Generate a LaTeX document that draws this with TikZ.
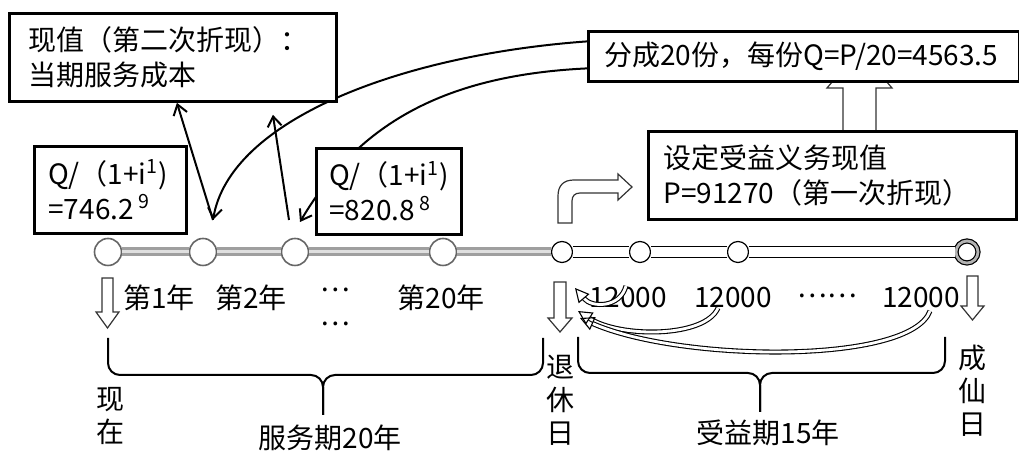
\documentclass[tikz,border=0pt]{standalone}
\usepackage{fontspec}
\setmainfont{Noto Sans CJK SC}
\usetikzlibrary{arrows.meta,backgrounds}

\tikzset{
  box/.style={draw, line width=1.4pt, fill=white, anchor=north west, align=left,
    inner ysep=0pt, font=\fontsize{14}{17.5}\selectfont},
  lbl/.style={inner sep=0pt, font=\fontsize{14}{16.5}\selectfont},
  vlbl/.style={lbl, align=center},
  lnode/.style={circle, draw=gray!80!black, line width=0.8pt, fill=white, minimum size=13.5pt, inner sep=0pt},
  rnode/.style={circle, draw, line width=0.6pt, fill=white, minimum size=10.5pt, inner sep=0pt},
  endnode/.style={circle, draw, line width=0.6pt, double=gray!60, double distance=1.4pt, fill=white, minimum size=11pt, inner sep=0pt},
  grayline/.style={draw=gray!75, line width=1.5pt, double=gray!25, double distance=1.5pt},
  blackline/.style={draw=black, line width=0.6pt, double=white, double distance=4.6pt},
  hollow/.style={draw=black!80, line width=0.6pt, fill=white},
  thin arrow/.style={line width=1pt, -{Straight Barb[length=5pt,width=7pt]}},
  payback/.style={draw=black, line width=0.55pt, double=white, double distance=1.4pt, -{Triangle[open,length=7pt,width=7pt]}},
  brace/.style={line width=1pt, rounded corners=6pt},
}

\begin{document}
\begin{tikzpicture}[x=0.5pt,y=-0.5pt]
  \useasboundingbox (0,0) rectangle (1019,453);

  \node[box, text width=144.5pt, inner xsep=9.5pt, minimum height=44pt] (pv) at (8,12) {现值（第二次折现）：\\当期服务成本};
  \node[box, text width=62pt, inner xsep=7pt, minimum height=43.5pt] (q9) at (33,145) {Q/（1+i\textsuperscript{1})\\=746.2\,\textsuperscript{9}};
  \node[box, text width=59.5pt, inner xsep=6.5pt, minimum height=43pt] (q8) at (315,147) {Q/（1+i\textsuperscript{1})\\=820.8\,\textsuperscript{8}};
  \node[box, text width=199.5pt, inner xsep=8pt, minimum height=25pt] (share) at (587,30) {分成20份，每份Q=P/20=4563.5};
  \node[box, text width=169pt, inner xsep=7.5pt, minimum height=44pt] (dbo) at (647,130) {设定受益义务现值\\P=91270（第一次折现）};

  \node[lnode] (t1) at (108,252) {};
  \node[lnode] (t2) at (203,252) {};
  \node[lnode] (t3) at (295,252) {};
  \node[lnode] (t4) at (443,252) {};
  \node[rnode] (t5) at (562,252) {};
  \node[rnode] (t6) at (640,252) {};
  \node[rnode] (t7) at (738,252) {};
  \node[endnode] (t8) at (967,252) {};
  \foreach \a/\b in {t1/t2,t2/t3,t3/t4,t4/t5} \draw[grayline] (\a) -- (\b);
  \foreach \a/\b in {t5/t6,t6/t7,t7/t8} \draw[blackline] (\a) -- (\b);

  \node[lbl] (y1) at (159,298) {第1年};
  \node[lbl] (y2) at (251,298) {第2年};
  \node[lbl] (d1) at (335,290) {…};
  \node[lbl] (d2) at (335,324) {…};
  \node[lbl] (y20) at (441,298) {第20年};
  \node[lbl] (c1) at (628,298) {12000};
  \node[lbl] (c2) at (733,298) {12000};
  \node[lbl] (d3) at (827,296) {……};
  \node[lbl] (c3) at (921,298) {12000};

  \node[vlbl] (now) at (111,416) {现\\在};
  \node[vlbl] (ret) at (560,400) {退\\休\\日};
  \node[vlbl] (die) at (972,391) {成\\仙\\日};
  \node[lbl] (svc) at (330,438) {服务期20年};
  \node[lbl] (ben) at (768,433) {受益期15年};

  % braces
  \draw[brace] (108,338) -- (108,375) -- (323,375) -- (323,415);
  \draw[brace] (323,415) -- (323,375) -- (543,375) -- (543,338);
  \draw[brace] (578,337) -- (578,373) -- (760,373) -- (760,412);
  \draw[brace] (760,412) -- (760,373) -- (945,373) -- (945,337);

  % hollow arrows
  \draw[hollow] (102,278) -- (113,278) -- (113,312) -- (119,312) -- (107.5,328) -- (96,312) -- (102,312) -- cycle;
  \draw[hollow] (554,282) -- (566,282) -- (566,318) -- (572,318) -- (560,332) -- (548,318) -- (554,318) -- cycle;
  \draw[hollow] (967,276) -- (978,276) -- (978,306) -- (984,306) -- (972.5,320) -- (961,306) -- (967,306) -- cycle;
  \draw[hollow] (572,223) -- (558,223) -- (558,196) .. controls (558,186) and (563,180) .. (574,180) -- (618,180)
    -- (618,174) -- (632,187) -- (618,200) -- (618,193) -- (580,193) .. controls (575,193) and (572,196) .. (572,201) -- cycle;

  % payments back to retirement
  \coordinate (a1) at (626,286);
  \coordinate (a2) at (718,308);
  \coordinate (a3) at (930,311);
  \coordinate (e1) at (575,288);
  \coordinate (e2) at (578,311);
  \coordinate (e3) at (580,318);
  \draw[payback] (a1) .. controls (620,308) and (592,308) .. (e1);
  \draw[payback] (a2) .. controls (705,338) and (620,338) .. (e2);
  \draw[payback] (a3) .. controls (910,365) and (680,362) .. (e3);

  \coordinate (v1) at (213,220);
  \coordinate (v2) at (300,222);
  \coordinate (w2) at (289,220);
  \draw[thin arrow] (v1) -- ([xshift=2pt]pv.south);
  \draw[thin arrow] (w2) -- ([xshift=50pt,yshift=-6pt]pv.south);

  \begin{scope}[on background layer]
    \draw[thin arrow] ([yshift=7.5pt]share.west) .. controls (400,55) and (230,120) .. (v1);
    \draw[thin arrow] ([yshift=-6pt]share.west) .. controls (450,75) and (360,120) .. (v2);
    \draw[hollow] (843,131) -- (843,88) -- (827,88) -- (859.5,50) -- (892,88) -- (876,88) -- (876,131) -- cycle;
  \end{scope}
\end{tikzpicture}
\end{document}
